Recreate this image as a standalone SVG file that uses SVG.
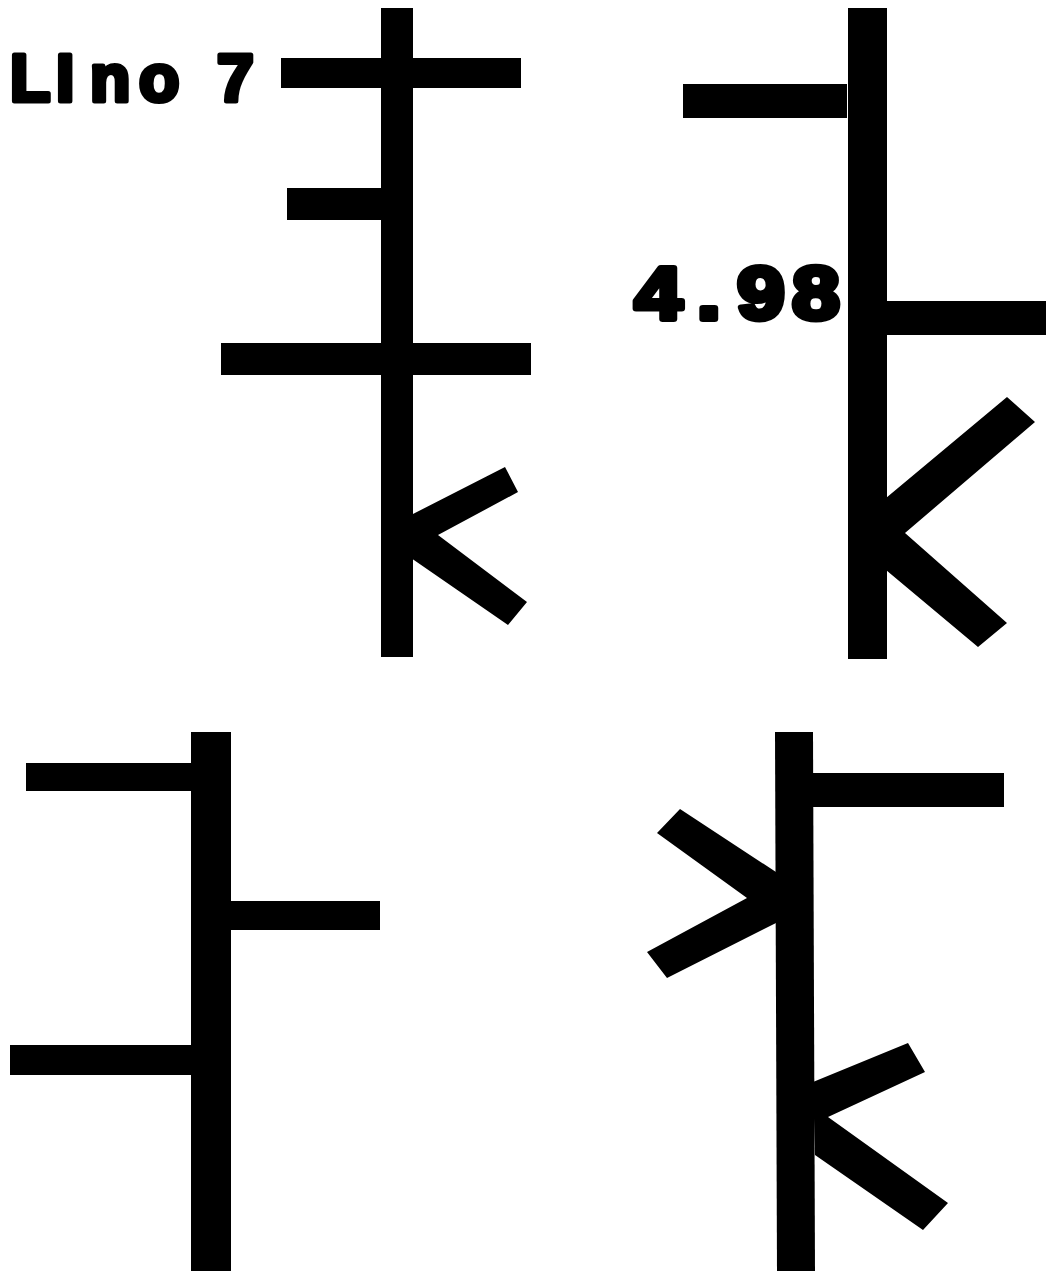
<svg xmlns="http://www.w3.org/2000/svg" width="1046" height="1271" viewBox="0 0 1046 1271">
<style>
.s{fill:#000}
.t{font-family:"Liberation Sans",Arial,sans-serif;font-weight:bold;fill:#000;stroke:#000;stroke-linejoin:round}
</style>
<rect width="1046" height="1271" fill="#fff"/>
<g id="panel1">
<rect class="s" x="381" y="8" width="32" height="649"/>
<rect class="s" x="281" y="58" width="240" height="30"/>
<rect class="s" x="287" y="188" width="96" height="32"/>
<rect class="s" x="221" y="343" width="310" height="32"/>
<polygon class="s" points="411,515 505,467 518,492 438,535 527,602 508,625 411,558"/>
<text class="t" y="101" font-size="66" stroke-width="5"><tspan x="10">L</tspan><tspan x="56">I</tspan><tspan x="90">n</tspan><tspan x="139">o</tspan><tspan x="217">7</tspan></text>
</g>
<g id="panel2">
<rect class="s" x="848" y="8" width="39" height="651"/>
<rect class="s" x="683" y="84" width="164" height="34"/>
<rect class="s" x="886" y="301" width="160" height="34"/>
<polygon class="s" points="886,498 1007,397 1035,422 905,533 1007,623 978,647 886,570"/>
<text class="t" y="319" font-size="74" stroke-width="6" transform="matrix(1.15 0 0 1 0 0)"><tspan x="552">4</tspan><tspan x="606">.</tspan><tspan x="641">9</tspan><tspan x="689">8</tspan></text>
</g>
<g id="panel3">
<rect class="s" x="191" y="732" width="40" height="539"/>
<rect class="s" x="26" y="763" width="166" height="28"/>
<rect class="s" x="230" y="901" width="150" height="29"/>
<rect class="s" x="10" y="1045" width="182" height="30"/>
</g>
<g id="panel4">
<polygon class="s" points="775,732 813,732 815,1271 777,1271"/>
<rect class="s" x="812" y="773" width="192" height="34"/>
<polygon class="s" points="776,872 680,809 657,833 747,898 647,952 667,978 776,923"/>
<polygon class="s" points="813,1082 908,1043 925,1072 828,1117 948,1203 923,1230 815,1155"/>
</g>
</svg>
